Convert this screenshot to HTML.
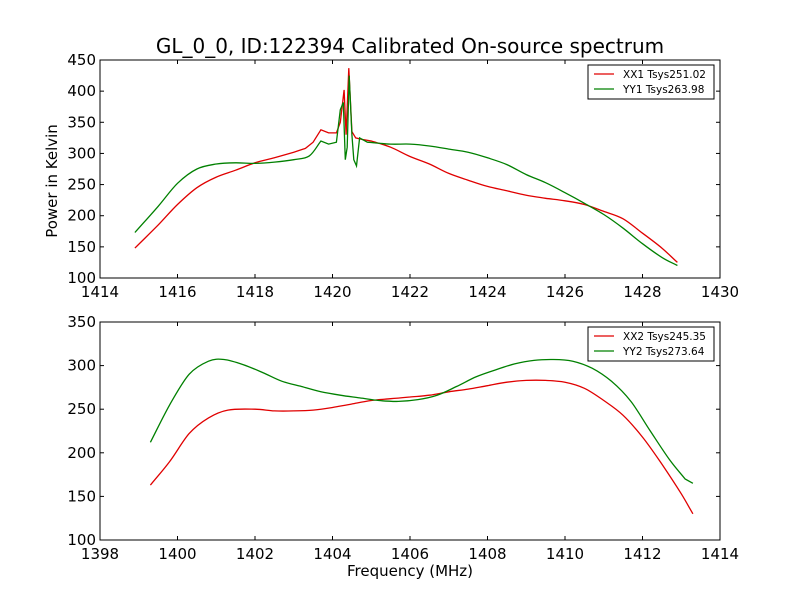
<!DOCTYPE html>
<html><head><meta charset="utf-8"><style>body{margin:0;background:#fff}svg{display:block;font-family:"DejaVu Sans","Liberation Sans",sans-serif}</style></head>
<body>
<svg id="c" width="800" height="600"></svg>
<script>
const xx1F=[1414.9,1415.5,1416,1416.5,1417,1417.5,1418,1418.5,1419,1419.3,1419.5,1419.7,1419.9,1420.1,1420.2,1420.3,1420.35,1420.42,1420.5,1420.6,1420.8,1421,1421.5,1422,1422.5,1423,1423.5,1424,1424.5,1425,1425.5,1426,1426.5,1427,1427.5,1428,1428.5,1428.9];
const xx1V=[148,185,218,245,262,273,285,293,302,308,318,338,333,333,350,402,330,437,335,325,322,320,310,295,283,268,257,247,240,233,228,224,218,207,195,172,148,125];
const yy1F=[1414.9,1415.5,1416,1416.5,1417,1417.5,1418,1418.5,1419,1419.4,1419.7,1419.9,1420.1,1420.2,1420.28,1420.33,1420.38,1420.43,1420.5,1420.55,1420.62,1420.7,1420.9,1421.5,1422,1422.5,1423,1423.5,1424,1424.5,1425,1425.5,1426,1426.5,1427,1427.5,1428,1428.5,1428.9];
const yy1V=[173,215,252,275,283,285,284,286,290,296,320,315,318,370,382,290,310,425,330,290,280,325,318,315,315,312,307,302,293,282,266,253,237,220,202,180,155,133,120];
const xx2F=[1399.3,1399.8,1400.3,1400.8,1401.3,1402,1402.5,1403,1403.5,1404,1404.5,1405,1405.5,1406,1406.5,1407,1407.5,1408,1408.5,1409,1409.5,1410,1410.5,1411,1411.5,1412,1412.5,1413,1413.3];
const xx2V=[163,190,222,240,249,250,248,248,249,252,256,260,262,264,266,270,273,277,281,283,283,281,274,260,243,218,187,153,130];
const yy2F=[1399.3,1399.8,1400.3,1400.8,1401.2,1401.7,1402.2,1402.7,1403.2,1403.7,1404.2,1404.7,1405.2,1405.7,1406.2,1406.7,1407.2,1407.7,1408.2,1408.7,1409.2,1409.7,1410.2,1410.7,1411.2,1411.7,1412.2,1412.7,1413.1,1413.3];
const yy2V=[212,255,290,305,307,301,292,282,276,270,266,263,260,259,261,266,276,287,295,302,306,307,305,297,282,259,225,192,170,165];
const topXTicks=[1414,1416,1418,1420,1422,1424,1426,1428,1430];
const topYTicks=[100,150,200,250,300,350,400,450];
const botXTicks=[1398,1400,1402,1404,1406,1408,1410,1412,1414];
const botYTicks=[100,150,200,250,300,350];
const NS="http://www.w3.org/2000/svg";
const svg=document.getElementById('c');
function mk(t,a,p){const e=document.createElementNS(NS,t);for(const k in a)e.setAttribute(k,a[k]);(p||svg).appendChild(e);return e;}
function smooth(pts){
  let d='M'+pts[0][0].toFixed(1)+' '+pts[0][1].toFixed(1);
  for(let i=0;i<pts.length-1;i++){
    const p0=pts[Math.max(0,i-1)],p1=pts[i],p2=pts[i+1],p3=pts[Math.min(pts.length-1,i+2)];
    if(p2[0]-p1[0]<8){d+='L'+p2[0].toFixed(1)+' '+p2[1].toFixed(1);continue;}
    const c1=[p1[0]+(p2[0]-p0[0])/6,p1[1]+(p2[1]-p0[1])/6],c2=[p2[0]-(p3[0]-p1[0])/6,p2[1]-(p3[1]-p1[1])/6];
    if(p1[0]-p0[0]<8){c1[0]=p1[0]+(p2[0]-p1[0])/3;c1[1]=p1[1]+(p2[1]-p1[1])/3;}
    if(p3[0]-p2[0]<8){c2[0]=p2[0]-(p2[0]-p1[0])/3;c2[1]=p2[1]-(p2[1]-p1[1])/3;}
    d+='C'+c1.map(v=>v.toFixed(1)).join(' ')+' '+c2.map(v=>v.toFixed(1)).join(' ')+' '+p2[0].toFixed(1)+' '+p2[1].toFixed(1);
  }
  return d;
}
function panel(name,L,T,R,B,x0,x1,y0,y1,xt,yt,series,legend){
  const g=mk('g',{});
  
  
  const X=v=>L+(v-x0)/(x1-x0)*(R-L), Y=v=>B-(v-y0)/(y1-y0)*(B-T);
  series.forEach(s=>{
    const pts=s.f.map((f,i)=>[X(f),Y(s.v[i])]);
    const p=mk('path',{d:smooth(pts),fill:'none',stroke:s.c,'stroke-width':1.3},g);
    
    
  });
  const fr=mk('rect',{x:L,y:T,width:R-L,height:B-T,fill:'none',stroke:'#000','stroke-width':1},g);
  
  
  xt.forEach(v=>{const x=X(v);mk('line',{x1:x,x2:x,y1:B,y2:B-4,stroke:'#000'},g);mk('line',{x1:x,x2:x,y1:T,y2:T+4,stroke:'#000'},g);
    const t=mk('text',{x:x,y:B+19,'text-anchor':'middle','font-size':15},g);t.textContent=v;
    
    });
  yt.forEach(v=>{const y=Y(v);mk('line',{x1:L,x2:L+4,y1:y,y2:y,stroke:'#000'},g);mk('line',{x1:R,x2:R-4,y1:y,y2:y,stroke:'#000'},g);
    const t=mk('text',{x:L-4,y:y+5,'text-anchor':'end','font-size':15},g);t.textContent=v;
    
    });
  const lg=mk('g',{},g);
  
  
  mk('rect',{x:588,y:legend.y,width:126,height:34,fill:'#fff',stroke:'#000'},lg);
  legend.items.forEach((it,i)=>{const yy=legend.y+9+i*15;
    mk('line',{x1:594,x2:614,y1:yy,y2:yy,stroke:it.c,'stroke-width':1.2},lg);
    const t=mk('text',{x:623,y:yy+4,'font-size':10.5},lg);t.textContent=it.t;
    
    });
}
panel('top-panel',100,60,720,278,1414,1430,100,450,topXTicks,topYTicks,
 [{f:xx1F,v:xx1V,c:'#e00000',n:'xx1-line'},{f:yy1F,v:yy1V,c:'#008000',n:'yy1-line'}],
 {y:65,items:[{c:'#e00000',t:'XX1 Tsys251.02'},{c:'#008000',t:'YY1 Tsys263.98'}]});
panel('bottom-panel',100,322,720,540,1398,1414,100,350,botXTicks,botYTicks,
 [{f:xx2F,v:xx2V,c:'#e00000',n:'xx2-line'},{f:yy2F,v:yy2V,c:'#008000',n:'yy2-line'}],
 {y:327,items:[{c:'#e00000',t:'XX2 Tsys245.35'},{c:'#008000',t:'YY2 Tsys273.64'}]});
let t=mk('text',{x:410,y:53,'text-anchor':'middle','font-size':20});t.textContent='GL_0_0, ID:122394 Calibrated On-source spectrum';


t=mk('text',{x:410,y:576,'text-anchor':'middle','font-size':15});t.textContent='Frequency (MHz)';


t=mk('text',{x:0,y:0,'text-anchor':'middle','font-size':15,transform:'translate(57,181) rotate(-90)'});t.textContent='Power in Kelvin';


</script>
</body></html>
